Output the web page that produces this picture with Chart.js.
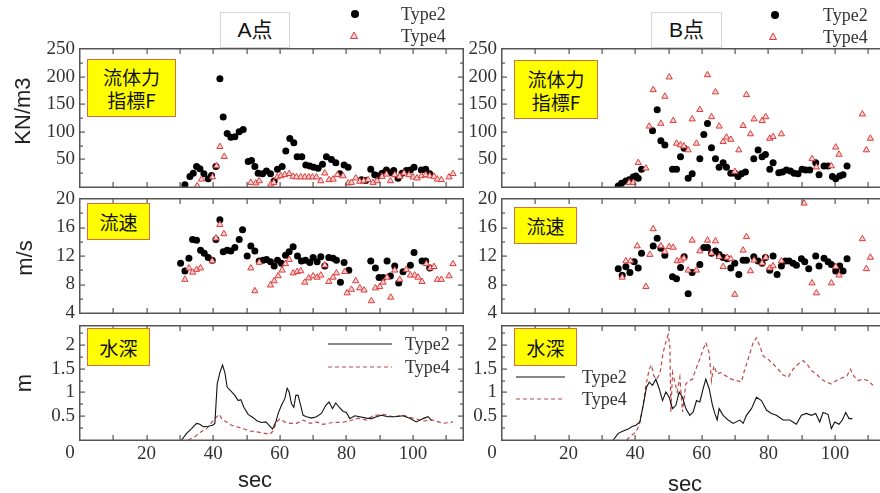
<!DOCTYPE html>
<html>
<head>
<meta charset="utf-8">
<script src="https://cdn.jsdelivr.net/npm/chart.js@4.4.1/dist/chart.umd.min.js"></script>
<style>
  body { margin: 0; width: 880px; height: 493px; overflow: hidden; background: #fff; position: relative; }
  canvas { position: absolute; }
  .frame { position: absolute; box-sizing: border-box; border: 1.3px solid #555; pointer-events: none; }
  .box { position: absolute; box-sizing: border-box; background: #ffff00; border: 1.5px solid #d4703c;
         font-family: "Noto Sans CJK JP", sans-serif; font-size: 19px; color: #111; text-align: center;
         display: flex; flex-direction: column; justify-content: center; line-height: 23px; }
  .pt { position: absolute; box-sizing: border-box; background: #fff; border: 1px solid #d6d6d6;
        font-family: "Liberation Sans", "Noto Sans CJK JP", sans-serif; font-size: 21px; color: #111;
        text-align: center; line-height: 34px; }
  .ytitle { position: absolute; font-family: "Liberation Sans", sans-serif; font-size: 22px; color: #222;
            white-space: nowrap; transform: translate(-50%, -50%) rotate(-90deg); }
  .xtitle { position: absolute; font-family: "Liberation Sans", sans-serif; font-size: 22px; color: #222;
            transform: translate(-50%, -50%); }
  .leg { position: absolute; font-family: "Liberation Serif", serif; font-size: 18px; color: #333;
         line-height: 20px; }
  svg { position: absolute; left: 0; top: 0; }
</style>
</head>
<body>
<canvas id="fA"></canvas><canvas id="fB"></canvas>
<canvas id="vA"></canvas><canvas id="vB"></canvas>
<canvas id="dA"></canvas><canvas id="dB"></canvas>

<script>
// tick labels
const secTicks = [20, 40, 60, 80, 100];
const forceTicks = [50, 100, 150, 200, 250];
const speedTicks = [4, 8, 12, 16, 20];
const depthTicks = [0.5, 1, 1.5, 2];

// 流体力指標F  [sec, KN/m3]
const forceA_type2 = [[31.5,4],[33,19],[34,25],[35,37],[36,33],[37.2,24],[38.5,15],[39.5,21],[40.8,37],[42,196],[43,127],[44.2,97],[45.3,90],[46.5,91],[47.8,100],[49,104],[50.5,46],[51.5,48],[52.5,37],[53.5,25],[54.8,24],[56,29],[57.2,24],[58.3,11],[59.3,32],[60.7,37],[61.8,65],[63,88],[64.2,80],[65.2,55],[66.6,55],[67.8,40],[69,38],[70.2,36],[71.5,34],[72.8,41],[74,55],[75.5,50],[76.8,44],[78,24],[79.3,40],[80.5,36],[84.5,13],[85.8,12],[87.3,32],[88.5,22],[89.5,20],[90.7,25],[92,31],[93,26],[94.2,30],[95.5,16],[96.7,25],[98,30],[99.2,31],[100.3,36],[102.5,31],[103.8,32],[105,24]];
const forceA_type4 = [[35.2,2],[36.5,14],[39.8,18],[41,38],[42,73],[43.3,55],[51.3,8],[52.8,7],[53.8,11],[57.3,5],[58.2,8],[59.2,18],[60.3,20],[61.5,22],[62.8,24],[64,19],[65,18],[66.3,18],[67.5,18],[68.7,18],[69.8,18],[71,18],[72.3,11],[73.5,25],[74.8,13],[76,14],[77.3,22],[79,20],[80.5,7],[81.5,8],[82.8,16],[84,10],[85.2,11],[86.5,13],[88,8],[89.2,11],[90.7,19],[92,23],[93.2,11],[94.5,22],[96,19],[97.3,25],[98.8,22],[100,18],[101.2,16],[102.5,20],[103.8,22],[105,20],[106.3,19],[107.3,14],[108.5,13],[110.8,18],[112,24]];
const forceB_type2 = [[34.9,2],[35.9,7],[37.2,11],[38.2,13],[39.4,18],[40.2,20],[40.9,16],[41.9,32],[45.2,102],[46.6,140],[47.7,84],[48.9,76],[51.2,32],[52.4,32],[53.6,55],[54.7,70],[55.9,16],[57.1,24],[59.4,51],[60.6,95],[61.7,115],[62.9,71],[64.1,51],[65.2,36],[66.4,44],[67.4,36],[68.7,25],[69.9,25],[70.9,19],[71.9,24],[73.1,27],[75.6,51],[76.9,67],[78.1,55],[79.1,59],[80.4,32],[81.4,44],[83.1,26],[84.2,27],[85.4,31],[86.6,29],[87.7,25],[88.9,24],[90.1,32],[91.2,31],[92.4,31],[94.2,44],[95.2,22],[96.7,38],[97.9,38],[99.2,19],[100.2,15],[101.4,20],[102.4,22],[103.6,38]];
const forceB_type4 = [[38.2,8],[39.4,8],[40.9,44],[43.2,34],[44.2,110],[45.4,176],[47.7,115],[48.9,164],[50.2,199],[51.4,120],[52.4,79],[53.6,76],[54.6,74],[55.9,67],[57.1,123],[58.4,79],[59.4,140],[61.7,203],[62.9,127],[64.1,172],[65.2,110],[66.4,82],[67.4,90],[68.7,86],[69.9,28],[71.1,67],[72.4,111],[73.4,167],[74.6,96],[75.7,123],[78.1,120],[79.2,127],[80.4,88],[81.4,91],[83.9,96],[93.1,51],[94.4,36],[98.9,38],[100.2,72],[101.2,59],[108.2,132],[109.4,67],[110.6,88]];

// 流速  [sec, m/s]
const speedA_type2 = [[30.2,11.0],[31.5,9.9],[32.7,11.7],[33.8,14.3],[35,14.2],[36.2,12.8],[37.3,12.4],[38.5,11.8],[39.7,11.4],[40.8,14.3],[42,17.1],[43,12.6],[44.2,12.8],[45.3,12.7],[46.5,13.2],[47.8,14.3],[48.8,15.7],[50.2,12.0],[51.3,13.4],[52.5,12.7],[53.8,11.3],[55,11.4],[56,11.5],[57.2,11.2],[58.3,10.6],[59.3,11.4],[60.5,11.0],[61.7,12.1],[62.8,12.6],[64,13.3],[65.3,12.0],[66.5,11.3],[67.7,11.4],[69,11.1],[70,11.8],[71.2,11.2],[72.3,11.9],[73.5,10.6],[74.7,11.8],[76,11.7],[77,11.4],[78.2,8.3],[79.3,11.1],[80.7,10.0],[87.3,11.3],[88.7,10.3],[89.8,9.0],[91,9.0],[92.2,11.3],[93.2,9.2],[94.5,10.6],[95.7,8.2],[97,9.8],[99.2,10.7],[100.3,12.5],[102.7,11.3],[103.8,11.3],[105,10.3]];
const speedA_type4 = [[31.5,8.7],[32.7,10.3],[33.8,9.7],[35,10.1],[36.2,10.3],[39.7,11.3],[40.8,14.5],[42,16.4],[43.2,15.1],[51.3,10.3],[52.5,7.1],[53.8,11.1],[57.2,7.9],[58.3,8.5],[59.5,9.2],[60.7,10.0],[61.7,10.9],[62.8,11.5],[64,9.6],[65.2,9.8],[66.3,9.9],[67.5,8.3],[68.7,8.9],[70,9.2],[71.2,9.0],[72.3,9.3],[73.5,10.7],[74.7,8.4],[76,9.0],[77,9.6],[79.5,9.8],[80.2,6.8],[81.5,7.3],[82.8,8.5],[84,7.5],[85.3,7.2],[87.5,5.7],[88.7,7.5],[90,7.7],[91,8.3],[92.2,9.0],[93.3,6.2],[94.5,10.0],[96,8.7],[98,10.1],[99.2,9.3],[100.5,9.3],[101.5,9.0],[102.7,8.4],[104,10.9],[105.2,10.3],[106.3,10.5],[107.3,8.7],[108.5,8.7],[110.8,9.2],[112,10.9]];
const speedB_type2 = [[34.9,10.2],[36.1,9.3],[37.2,10.5],[38.4,9.7],[39.7,11.2],[40.9,10.3],[41.9,12.4],[45.4,13.4],[46.6,14.5],[47.7,13.1],[48.9,12.1],[51.2,9.1],[52.4,8.8],[53.6,10.4],[54.7,11.9],[55.9,6.7],[57.1,9.7],[59.4,10.8],[60.6,13.2],[61.7,13.2],[62.9,12.4],[64.1,12.7],[65.2,12.2],[66.4,11.8],[67.6,11.6],[68.7,10.3],[69.9,11.0],[71.1,9.4],[72.4,11.4],[73.4,11.4],[75.6,11.9],[76.9,11.3],[78.1,11.0],[79.1,11.8],[80.4,10.0],[81.4,12.0],[82.6,9.4],[83.9,10.6],[85.1,11.3],[86.2,11.3],[87.4,11.0],[88.4,10.7],[89.9,11.6],[90.9,11.2],[92.1,10.2],[94.2,12.0],[95.2,10.6],[96.7,11.7],[97.9,11.2],[98.9,10.8],[100.2,9.9],[101.4,10.6],[102.4,9.9],[103.6,11.6]];
const speedB_type4 = [[36.1,9.0],[37.2,11.3],[38.6,11.3],[40.6,13.4],[43.2,7.7],[44.4,12.2],[45.4,15.8],[47.7,13.4],[48.9,12.6],[50.2,13.3],[51.4,13.2],[52.6,11.3],[53.7,11.4],[54.6,11.7],[55.9,10.0],[57.1,14.2],[58.4,10.0],[59.4,12.7],[61.7,14.2],[62.9,12.4],[64.1,14.1],[65.2,11.9],[66.4,10.5],[67.6,11.8],[68.7,11.6],[69.9,6.6],[72.4,12.8],[73.4,14.7],[74.6,9.9],[75.7,11.4],[78.1,11.0],[79.2,11.8],[80.4,10.3],[81.4,10.6],[83.9,11.3],[90.7,19.4],[93.1,8.2],[94.4,6.8],[98.9,8.2],[100.2,10.5],[101.2,9.3],[108.2,14.4],[109.4,10.2],[110.6,11.8]];

// 水深  [sec, m]
const depthA_type2 = [[30.5,0],[32,0.14],[33.5,0.24],[35,0.35],[36,0.33],[37,0.28],[38.5,0.29],[39.8,0.31],[40.5,0.35],[41.2,1.18],[42,1.42],[42.8,1.58],[43.5,1.42],[44.2,1.11],[45.2,1.04],[46.5,0.94],[47.5,0.83],[48.3,0.85],[49.2,0.69],[50.5,0.54],[52,0.47],[53.2,0.40],[54.5,0.37],[55.8,0.38],[56.8,0.31],[57.8,0.23],[58.8,0.38],[59.5,0.56],[60.5,0.73],[61.5,0.87],[62.2,1.09],[62.8,1.01],[63.5,0.76],[64.2,0.69],[64.8,0.94],[65.5,0.94],[66.2,0.74],[67,0.52],[68,0.49],[69.5,0.46],[71,0.49],[72.5,0.56],[73.8,0.73],[74.8,0.80],[75.8,0.66],[76.8,0.78],[77.8,0.69],[79,0.60],[80,0.58],[81,0.45],[82.5,0.51],[84,0.49],[86,0.46],[87.5,0.45],[89,0.49],[90.5,0.52],[92.5,0.49],[94.5,0.49],[97,0.51],[99,0.46],[101,0.38],[103,0.45],[104.5,0.49],[105.5,0.42]];
const depthA_type4 = [[32.5,0],[34.5,0.07],[36,0.16],[38,0.24],[40.5,0.45],[41.8,0.54],[42.8,0.42],[44,0.38],[45.5,0.31],[48,0.26],[51,0.19],[54,0.16],[57,0.12],[58,0.19],[59,0.38],[60,0.44],[61.5,0.38],[63,0.35],[65,0.35],[67,0.42],[69,0.35],[71,0.38],[73,0.33],[76,0.37],[78.5,0.37],[81,0.40],[83.5,0.46],[86,0.42],[88,0.51],[91,0.54],[94,0.49],[97,0.52],[100,0.46],[103,0.40],[106,0.42],[109,0.35],[112,0.38]];
const depthB_type2 = [[33.4,0],[34.9,0.14],[36.4,0.19],[37.9,0.23],[38.9,0.28],[40.2,0.31],[41.4,0.38],[42.4,0.73],[43.4,1.11],[44.2,1.22],[45.2,1.15],[46.2,1.28],[47.2,1.08],[48.2,0.83],[49.2,1.01],[50.2,0.90],[51.2,0.66],[52.2,0.73],[53.2,1.01],[54.2,0.90],[55.2,0.66],[56.4,0.52],[57.4,0.59],[58.4,0.83],[59.4,0.80],[60.4,1.08],[61.2,1.28],[62.2,1.08],[63.2,0.73],[63.9,0.56],[64.6,0.42],[65.2,0.66],[66.4,0.52],[67.9,0.42],[69.4,0.35],[71.4,0.42],[72.4,0.35],[73.4,0.52],[74.9,0.66],[76.4,0.90],[77.9,0.83],[79.4,0.63],[80.9,0.56],[82.4,0.52],[84.4,0.42],[86.4,0.42],[88.4,0.33],[89.9,0.52],[91.4,0.56],[92.9,0.52],[94.2,0.56],[95.4,0.38],[96.4,0.58],[97.9,0.54],[98.9,0.24],[99.9,0.38],[101.2,0.33],[102.2,0.42],[103.2,0.58],[104.2,0.45],[105.2,0.45]];
const depthB_type4 = [[37.4,0],[38.9,0.10],[40.2,0.17],[41.2,0.31],[42.2,0.66],[43.2,1.15],[44.2,1.49],[44.9,1.58],[45.6,1.35],[46.4,1.28],[47.4,1.39],[48.4,1.84],[49.4,2.12],[49.9,2.22],[50.4,1.98],[50.7,0.59],[51.2,1.42],[51.9,1.22],[52.6,1.01],[53.4,1.32],[54.2,0.59],[55.2,1.18],[56.2,1.25],[57.2,1.28],[58.2,1.49],[59.2,1.67],[60.4,1.91],[61.2,2.05],[62.2,1.84],[62.9,1.25],[63.6,1.56],[64.6,1.39],[65.6,1.42],[67.2,1.35],[68.9,1.28],[70.4,1.25],[71.9,1.22],[72.9,1.49],[74.2,1.77],[75.4,2.05],[76.4,2.15],[77.4,1.98],[78.4,1.77],[79.9,1.70],[81.4,1.60],[82.9,1.49],[84.4,1.37],[85.9,1.32],[87.4,1.49],[88.9,1.60],[90.4,1.67],[91.6,1.60],[92.9,1.46],[94.4,1.39],[95.9,1.28],[97.4,1.22],[98.9,1.18],[100.4,1.25],[101.9,1.30],[103.6,1.35],[104.6,1.49],[105.6,1.35],[106.9,1.25],[108.4,1.28],[109.9,1.25],[111.4,1.15]];

// layout
const colLeft = [80, 502];
const plotW = 383;
const rowTop = [49, 199, 326];
const rowH = [138, 114, 114];
const AXIS_W = 60, PAD_T = 12, PAD_R = 10, PAD_B = 12, X_H = 32;
const tickFont = { family: 'Liberation Serif', size: 19 };

const toXY = arr => arr.map(p => ({ x: p[0], y: p[1] }));

const dots = (arr) => ({
  data: toXY(arr), pointStyle: 'circle', pointRadius: 3.5,
  backgroundColor: '#000', borderColor: '#000', borderWidth: 0
});
const tris = (arr) => ({
  data: toXY(arr), pointStyle: 'triangle', pointRadius: 3.6,
  backgroundColor: '#fbd3d3', borderColor: '#dd3b3b', borderWidth: 1
});
const solid = (arr) => ({
  data: toXY(arr), showLine: true, pointRadius: 0, borderColor: '#111', borderWidth: 1.1, tension: 0
});
const dashed = (arr) => ({
  data: toXY(arr), showLine: true, pointRadius: 0, borderColor: '#c0474a', borderWidth: 1.2,
  borderDash: [4, 3], tension: 0
});

// frame with inward ticks on all four sides
const makeFrame = () => ({
  id: 'frame',
  afterDraw(chart, args, opts) {
    const { ctx, chartArea: a, scales: { x, y } } = chart;
    const L = Math.round(a.left), T = Math.round(a.top), R = Math.round(a.right), B = Math.round(a.bottom);
    ctx.save();
    ctx.fillStyle = '#555';
    ctx.fillRect(L - 1, T - 1, R - L + 2, 1.5);
    ctx.fillRect(L - 1, B - 0.5, R - L + 2, 1.5);
    ctx.fillRect(L - 1, T - 1, 1.5, B - T + 2);
    ctx.fillRect(R - 0.5, T - 1, 1.5, B - T + 2);
    for (let i = 1; i * 10 < x.max; i++) {
      const px = Math.round(x.getPixelForValue(i * 10));
      ctx.fillRect(px - 0.5, B - 5, 1.2, 5);
      ctx.fillRect(px - 0.5, T, 1.2, 5);
    }
    for (let i = 1; y.min + i * opts.minor < y.max - 1e-6; i++) {
      const py = Math.round(y.getPixelForValue(y.min + i * opts.minor));
      const len = (i % 2 === 0) ? 5 : 3;
      ctx.fillRect(L, py - 0.5, len, 1.2);
      ctx.fillRect(R - len, py - 0.5, len, 1.2);
    }
    if (opts.zero) {
      ctx.fillStyle = '#333';
      ctx.font = '19px "Liberation Serif"';
      ctx.textAlign = 'center';
      ctx.textBaseline = 'middle';
      ctx.fillText('0', L - 10, B + 13);
    }
    ctx.restore();
  }
});

function panel(id, col, row, datasets, yMin, yMax, yLabels, minor) {
  const bottom = row === 2;
  const cv = document.getElementById(id);
  const w = AXIS_W + plotW + PAD_R;
  const h = PAD_T + rowH[row] + (bottom ? X_H : PAD_B);
  cv.width = w; cv.height = h;
  cv.style.left = (colLeft[col] - AXIS_W) + 'px';
  cv.style.top = (rowTop[row] - PAD_T) + 'px';

  // plain outline of the plot area behind the canvas marks
  const fr = document.createElement('div');
  fr.className = 'frame';
  fr.style.left = (colLeft[col] - 1) + 'px';
  fr.style.top = (rowTop[row] - 1) + 'px';
  fr.style.width = (plotW + 2) + 'px';
  fr.style.height = (rowH[row] + 2) + 'px';
  document.body.insertBefore(fr, cv);

  return new Chart(cv.getContext('2d'), {
    type: 'scatter',
    data: { datasets: datasets },
    options: {
      responsive: false,
      animation: false,
      events: [],
      layout: { padding: { top: PAD_T, right: PAD_R, bottom: bottom ? 0 : PAD_B, left: 0 } },
      plugins: { legend: { display: false }, tooltip: { enabled: false }, frame: { minor: minor, zero: bottom } },
      scales: {
        x: {
          type: 'linear', min: 0, max: 115, display: bottom,
          afterFit: s => { s.height = bottom ? X_H : 0; s.paddingLeft = 0; s.paddingRight = 0; },
          grid: { display: false, drawTicks: false }, border: { display: false },
          ticks: {
            stepSize: 20, includeBounds: false, autoSkip: false, maxRotation: 0, padding: 3,
            color: '#333', font: tickFont,
            callback: v => secTicks.includes(v) ? String(v) : ''
          }
        },
        y: {
          type: 'linear', min: yMin, max: yMax,
          afterFit: s => { s.width = AXIS_W; s.paddingTop = 0; s.paddingBottom = 0; },
          grid: { display: false, drawTicks: false }, border: { display: false },
          ticks: {
            stepSize: yLabels[1] - yLabels[0], includeBounds: false, autoSkip: false, padding: 5,
            color: '#333', font: tickFont,
            callback: v => yLabels.some(l => Math.abs(l - v) < 1e-6) ? String(v) : ''
          }
        }
      }
    },
    plugins: [makeFrame()]
  });
}

// 流体力指標F
panel('fA', 0, 0, [tris(forceA_type4), dots(forceA_type2)], 0, 250, forceTicks, 25);
panel('fB', 1, 0, [tris(forceB_type4), dots(forceB_type2)], 0, 250, forceTicks, 25);
// 流速
panel('vA', 0, 1, [tris(speedA_type4), dots(speedA_type2)], 4, 20, speedTicks, 2);
panel('vB', 1, 1, [tris(speedB_type4), dots(speedB_type2)], 4, 20, speedTicks, 2);
// 水深
panel('dA', 0, 2, [solid(depthA_type2), dashed(depthA_type4)], 0, 2.4, depthTicks, 0.25);
panel('dB', 1, 2, [solid(depthB_type2), dashed(depthB_type4)], 0, 2.4, depthTicks, 0.25);
</script>

<!-- labels and legends -->
<div class="pt" style="left:220px;top:12px;width:70px;height:36px;">A点</div>
<div class="pt" style="left:651px;top:12px;width:71px;height:36px;">B点</div>

<div class="box" style="left:87px;top:59px;width:89px;height:58px;"><div>流体力</div><div>指標F</div></div>
<div class="box" style="left:514px;top:60px;width:84px;height:59px;"><div>流体力</div><div>指標F</div></div>
<div class="box" style="left:87px;top:203px;width:63px;height:37px;">流速</div>
<div class="box" style="left:514px;top:207px;width:63px;height:37px;">流速</div>
<div class="box" style="left:87px;top:328px;width:63px;height:38px;">水深</div>
<div class="box" style="left:514px;top:328px;width:63px;height:38px;">水深</div>

<div class="ytitle" style="left:23px;top:111px;">KN/m3</div>
<div class="ytitle" style="left:25px;top:258px;">m/s</div>
<div class="ytitle" style="left:24px;top:383px;">m</div>
<div class="xtitle" style="left:255px;top:480px;">sec</div>
<div class="xtitle" style="left:685px;top:484px;">sec</div>

<svg width="880" height="493">
  <circle cx="355" cy="14" r="4" fill="#000"/>
  <polygon points="354,32 350.5,38.5 357.5,38.5" fill="#fbd3d3" stroke="#dd3b3b" stroke-width="1"/>
  <circle cx="775" cy="15" r="4" fill="#000"/>
  <polygon points="773,33 769.5,39.5 776.5,39.5" fill="#fbd3d3" stroke="#dd3b3b" stroke-width="1"/>
  <line x1="328" y1="344" x2="392" y2="344" stroke="#111" stroke-width="1.2"/>
  <line x1="328" y1="367" x2="392" y2="367" stroke="#c0474a" stroke-width="1.2" stroke-dasharray="4 3"/>
  <line x1="516" y1="377" x2="565" y2="377" stroke="#111" stroke-width="1.2"/>
  <line x1="516" y1="399" x2="565" y2="399" stroke="#c0474a" stroke-width="1.2" stroke-dasharray="4 3"/>
</svg>
<div class="leg" style="left:401px;top:4px;">Type2</div>
<div class="leg" style="left:401px;top:26px;">Type4</div>
<div class="leg" style="left:823px;top:5px;">Type2</div>
<div class="leg" style="left:823px;top:27px;">Type4</div>
<div class="leg" style="left:405px;top:334px;">Type2</div>
<div class="leg" style="left:405px;top:357px;">Type4</div>
<div class="leg" style="left:582px;top:367px;">Type2</div>
<div class="leg" style="left:582px;top:389px;">Type4</div>
</body>
</html>
